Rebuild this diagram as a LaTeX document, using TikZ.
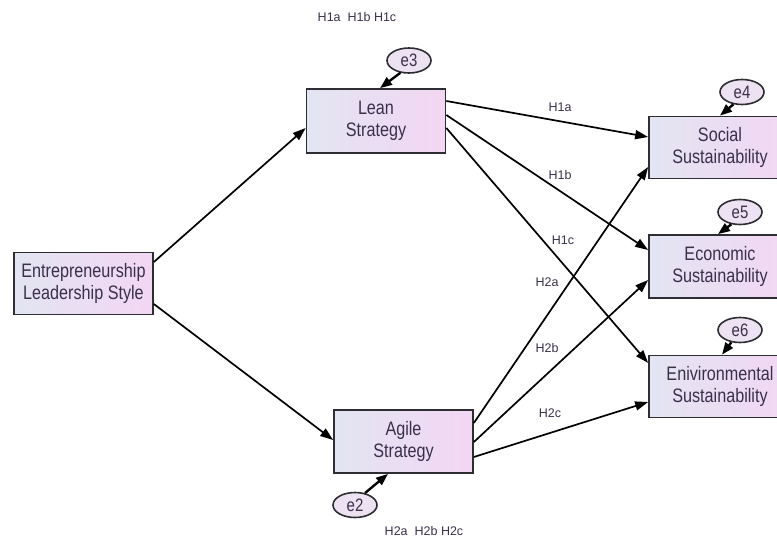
\documentclass[tikz,border=0pt]{standalone}
\usepackage{fontspec}
\setmainfont{Liberation Sans}
\newfontfamily\narrowsans[FakeStretch=0.83]{Liberation Sans}
\usetikzlibrary{arrows.meta,shapes.geometric}
\definecolor{boxleft}{RGB}{226,229,242}
\definecolor{boxright}{RGB}{243,214,243}
\definecolor{errfill}{RGB}{236,226,242}
\definecolor{edgegray}{RGB}{45,45,50}
\definecolor{inkgray}{RGB}{58,48,74}
\begin{document}
\begin{tikzpicture}[x=1pt,y=-1pt,
  var/.style={draw=edgegray, line width=1.7pt, left color=boxleft, right color=boxright,
    minimum width=139pt, minimum height=62pt, inner sep=0pt, align=center,
    font=\narrowsans\fontsize{19.5}{22}\selectfont, text=inkgray},
  err/.style={ellipse, draw=edgegray, line width=1.6pt, fill=errfill,
    minimum width=44pt, minimum height=25pt, inner sep=0pt,
    font=\narrowsans\fontsize{18}{18}\selectfont, text=inkgray},
  link/.style={-{Triangle[length=13pt,width=9pt]}, line width=1.7pt, draw=black},
  errlink/.style={-{Triangle[length=12pt,width=9pt]}, line width=2.4pt, draw=black},
  hlab/.style={font=\fontsize{12.5}{12.5}\selectfont, text=inkgray}]
\clip (0,0) rectangle (777,543);

% latent constructs
\node[var] (els) at (83.5,283.5) {Entrepreneurship\\Leadership Style};
\node[var, minimum height=64pt] (lean) at (376,121) {Lean\\Strategy};
\node[var, minimum height=63pt] (agile) at (403.5,441.5) {Agile\\Strategy};
\node[var, minimum width=142pt] (soc) at (720,147.5) {Social\\Sustainability};
\node[var, minimum width=142pt, minimum height=63pt] (eco) at (720,266.5) {Economic\\Sustainability};
\node[var, minimum width=142pt] (env) at (720,386.5) {Enivironmental\\Sustainability};

% error terms
\node[err] (e3) at (409,60.5) {e3};
\node[err] (e4) at (742,92) {e4};
\node[err] (e5) at (740,212) {e5};
\node[err] (e6) at (740,330) {e6};
\node[err] (e2) at (355,505) {e2};

\draw[errlink] (e3.235) -- ([xshift=4pt]lean.north);
\draw[errlink] (e4.235) -- ([xshift=0pt]soc.north);
\draw[errlink] (e5.235) -- ([xshift=-2pt]eco.north);
\draw[errlink] (e6.235) -- ([xshift=2pt]env.north);
\draw[errlink] (e2.50) -- ([xshift=-15.5pt]agile.south);

% structural paths
\draw[link] ([yshift=21.5pt]els.east) -- ([yshift=-7pt]lean.west);
\draw[link] ([yshift=-20.5pt]els.east) -- ([yshift=1.5pt]agile.west);

\draw[link] ([yshift=20pt]lean.east) -- ([yshift=10.5pt]soc.west);
\draw[link] ([yshift=6pt]lean.east) -- ([yshift=16.5pt]eco.west);
\draw[link] ([yshift=-7pt]lean.east) -- ([yshift=23.5pt]env.west);

\draw[link] ([yshift=18.5pt]agile.east) -- ([yshift=-19.5pt]soc.west);
\draw[link] ([yshift=-0.5pt]agile.east) -- ([yshift=-13.5pt]eco.west);
\draw[link] ([yshift=-15.5pt]agile.east) -- ([yshift=-15.5pt]env.west);

% hypothesis labels
\node[hlab] (l1a) at (560,107) {H1a};
\node[hlab] (l1b) at (560,175) {H1b};
\node[hlab] (l1c) at (563,240) {H1c};
\node[hlab] (l2a) at (547,282) {H2a};
\node[hlab] (l2b) at (547,348) {H2b};
\node[hlab] (l2c) at (550,413) {H2c};
\node[hlab] (top) at (357,17) {H1a\ \ H1b H1c};
\node[hlab] (bot) at (424,531) {H2a\ \ H2b H2c};
\end{tikzpicture}
\end{document}
